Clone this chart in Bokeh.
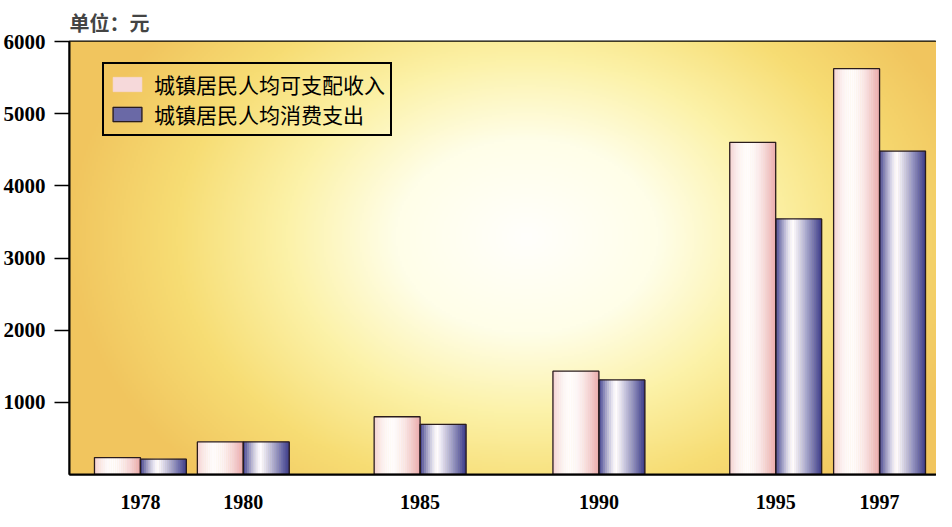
import numpy as np
from bokeh.plotting import figure
from bokeh.models import Range1d, FixedTicker, Legend, LegendItem
from bokeh.embed import file_html
from bokeh.resources import INLINE

# ---- data ----
years = ["1978", "1980", "1985", "1990", "1995", "1997"]
income = [234, 451, 800, 1432, 4603, 5623]          # 城镇居民人均可支配收入
consumption = [212, 451, 695, 1310, 3541, 4481]     # 城镇居民人均消费支出
y_ticks = [1000, 2000, 3000, 4000, 5000, 6000]
series_labels = ["城镇居民人均可支配收入", "城镇居民人均消费支出"]
title_text = "单位：元"

# ---- layout (positions of the year groups along the axis, in px-like units) ----
slot = [0, 103, 280, 459, 636, 740]
bar_w = 46
x_start, x_end = -71, 797
y_start, y_end = 0, 6000

p = figure(width=936, height=511, output_backend="svg", toolbar_location=None,
           x_range=Range1d(x_start, x_end), y_range=Range1d(y_start, y_end),
           min_border_left=68, min_border_right=0, min_border_top=34,
           min_border_bottom=30)
p.background_fill_color = "#f5d070"
p.border_fill_color = "white"
p.outline_line_color = "black"
p.outline_line_width = 2
p.xgrid.visible = False
p.ygrid.visible = False

# title
p.title.text = title_text
p.title.text_font = "Noto Sans CJK SC"
p.title.text_font_size = "20px"
p.title.text_font_style = "bold"
p.title.align = "left"
p.title.offset = 0

# ---- radial background gradient ----
FW, FH = 868, 440
W, H = 434, 220
xs = np.linspace(0, FW, W)
ys = np.linspace(FH, 0, H)
X, Y = np.meshgrid(xs, ys)
cx, cy, rx, ry = 458, 198, 440, 330
d = np.sqrt(((X - cx) / rx) ** 2 + ((Y - cy) / ry) ** 2)
stops = [0, 0.3, 0.55, 0.8, 1.05]
cols = [(255, 255, 252), (255, 254, 232), (252, 242, 168), (247, 221, 116), (241, 197, 94)]
img = np.empty((H, W), dtype=np.uint32)
view = img.view(dtype=np.uint8).reshape((H, W, 4))
for ch in range(3):
    view[..., ch] = np.interp(d, stops, [c[ch] for c in cols]).astype(np.uint8)
view[..., 3] = 255
p.image_rgba(image=[img], x=x_start, y=y_start, dw=x_end - x_start, dh=y_end - y_start)

# ---- gradient bars drawn as thin vertical strips ----
N = 22


def hexc(c):
    return "#%02x%02x%02x" % tuple(int(round(v)) for v in c)


def profile(t, peak, lpow, rpow, lmin):
    if t < peak:
        return 1 - (1 - lmin) * ((peak - t) / peak) ** lpow
    return 1 - ((t - peak) / (1 - peak)) ** rpow


def strips(values, offset, edge, hi, peak, lpow, rpow, lmin):
    L, R, T, B, C = [], [], [], [], []
    for s, v in zip(slot, values):
        x0 = s + offset
        for k in range(N):
            t = (k + 0.5) / N
            b = max(0.0, min(1.0, profile(t, peak, lpow, rpow, lmin)))
            c = [e + (h - e) * b for e, h in zip(edge, hi)]
            L.append(x0 + bar_w * k / N)
            R.append(x0 + bar_w * (k + 1) / N)
            T.append(v)
            B.append(0)
            C.append(hexc(c))
    return p.quad(left=L, right=R, top=T, bottom=B, fill_color=C, line_color=C, line_width=0.6)


s_inc = strips(income, -bar_w, (234, 170, 172), (255, 252, 252), 0.4, 2.0, 1.6, 0.45)
s_con = strips(consumption, 0, (58, 58, 138), (255, 252, 255), 0.38, 1.4, 1.1, 0.0)

outline = "#2a1c1c"
o_inc = p.quad(left=[s - bar_w for s in slot], right=slot, top=income, bottom=[0] * len(slot),
               fill_alpha=0, line_color=outline, line_width=1.3)
o_con = p.quad(left=slot, right=[s + bar_w for s in slot], top=consumption, bottom=[0] * len(slot),
               fill_alpha=0, line_color=outline, line_width=1.3)

legend = Legend(items=[LegendItem(label=series_labels[0], renderers=[s_inc, o_inc], index=16),
                       LegendItem(label=series_labels[1], renderers=[s_con, o_con], index=1)],
                location=(33, 338))
legend.label_text_font = "Noto Sans CJK SC"
legend.label_text_font_size = "21px"
legend.label_text_color = "black"
legend.glyph_width = 36
legend.glyph_height = 18
legend.label_height = 22
legend.label_standoff = 9
legend.spacing = 0
legend.padding = 5
legend.margin = 0
legend.border_line_color = "black"
legend.border_line_alpha = 1
legend.border_line_width = 2
legend.background_fill_alpha = 0
p.add_layout(legend)

# ---- axes ----
ya = p.yaxis[0]
ya.ticker = FixedTicker(ticks=y_ticks)
ya.axis_label = None
ya.major_label_text_font = "Liberation Serif"
ya.major_label_text_font_style = "bold"
ya.major_label_text_font_size = "21px"
ya.major_label_text_color = "black"
ya.major_tick_out = 15
ya.major_tick_in = 0
ya.major_tick_line_width = 1.5
ya.major_tick_line_color = "black"
ya.minor_tick_line_color = None
ya.axis_line_width = 2
ya.axis_line_color = "black"
ya.major_label_standoff = 9

xa = p.xaxis[0]
xa.ticker = FixedTicker(ticks=slot)
xa.axis_label = None
xa.axis_label_standoff = 0
xa.major_label_overrides = {s: y for s, y in zip(slot, years)}
xa.major_label_text_font = "Liberation Serif"
xa.major_label_text_font_style = "bold"
xa.major_label_text_font_size = "20px"
xa.major_label_text_color = "black"
xa.major_tick_line_color = None
xa.minor_tick_line_color = None
xa.major_tick_out = 0
xa.major_tick_in = 0
xa.axis_line_width = 2
xa.axis_line_color = "black"
xa.major_label_standoff = 20

open("out.html", "w").write(file_html(p, INLINE))
